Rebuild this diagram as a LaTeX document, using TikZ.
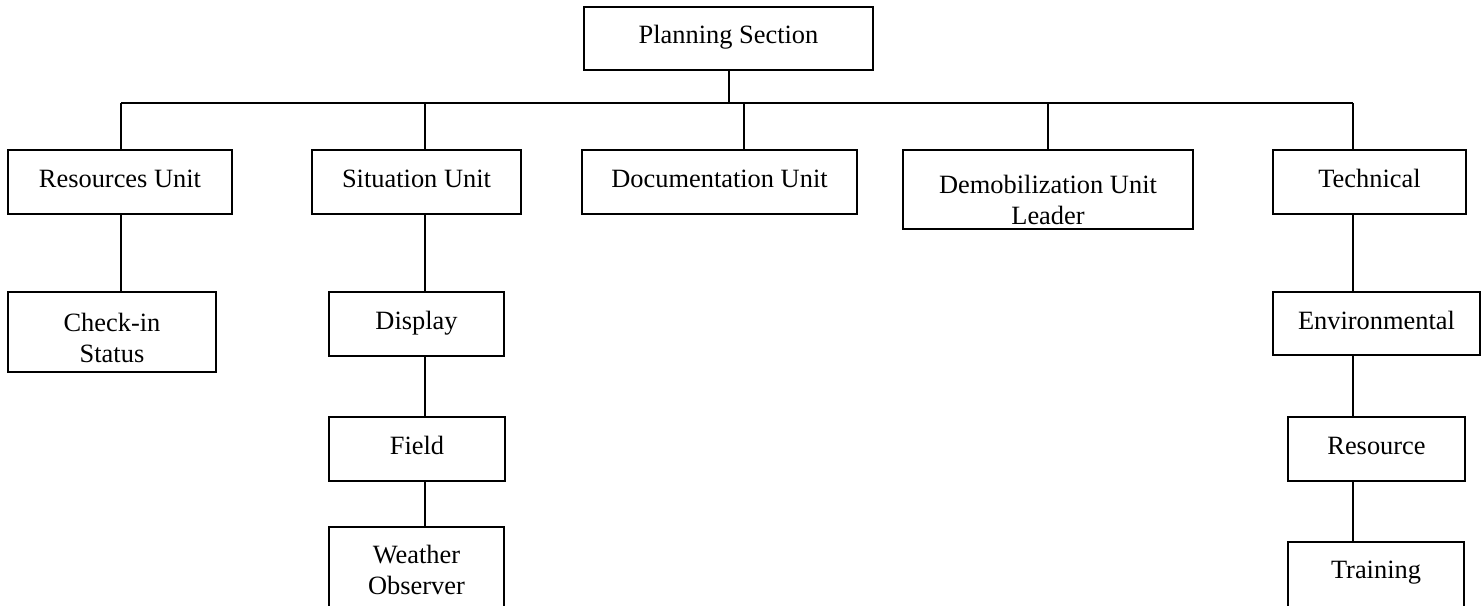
\documentclass[tikz,border=0pt]{standalone}
\usepackage{fontspec}
\setmainfont{Liberation Serif}
\tikzset{
  orgbox/.style={draw, line width=1.6pt, rectangle, inner sep=0pt, outer sep=0pt,
    anchor=north west, text height=37pt,
    font=\fontsize{26.4}{31}\selectfont},
  link/.style={line width=1.6pt}
}
\newcommand{\twoline}[2]{\begin{tabular}[t]{@{}c@{}}#1\\#2\end{tabular}}
\begin{document}
\begin{tikzpicture}[x=1pt,y=-1pt]
\useasboundingbox (0,0) rectangle (1483,605);
\clip (0,0) rectangle (1483,605);
% boxes: (left,top), width, height
\node[orgbox, minimum width=289pt, minimum height=63pt, text height=36pt, text depth=27pt] (plan) at (584,7) {Planning Section};
\node[orgbox, minimum width=224pt, minimum height=64pt, text depth=27pt] (res) at (8,150) {Resources Unit};
\node[orgbox, minimum width=209pt, minimum height=64pt, text depth=27pt] (sit) at (312,150) {Situation Unit};
\node[orgbox, minimum width=275pt, minimum height=64pt, text depth=27pt] (doc) at (582,150) {Documentation Unit};
\node[orgbox, minimum width=290pt, minimum height=79pt, text height=43pt, text depth=36pt] (demob) at (903,150) {\twoline{Demobilization Unit}{Leader}};
\node[orgbox, minimum width=193pt, minimum height=64pt, text depth=27pt] (tech) at (1273,150) {Technical};
\node[orgbox, minimum width=208pt, minimum height=80pt, text height=39pt, text depth=41pt] (chk) at (8,292) {\twoline{Check-in}{Status}};
\node[orgbox, minimum width=175pt, minimum height=64pt, text depth=27pt] (disp) at (329,292) {Display};
\node[orgbox, minimum width=207pt, minimum height=63pt, text depth=26pt] (env) at (1273,292) {Environmental};
\node[orgbox, minimum width=176pt, minimum height=64pt, text depth=27pt] (field) at (329,417) {Field};
\node[orgbox, minimum width=177pt, minimum height=64pt, text depth=27pt] (resrc) at (1288,417) {Resource};
\node[orgbox, minimum width=175pt, minimum height=113pt, text height=36pt, text depth=77pt] (wx) at (329,527) {\twoline{Weather}{Observer}};
\node[orgbox, minimum width=176pt, minimum height=98pt, text height=36pt, text depth=62pt] (train) at (1288,542) {Training};
% bus taps
\coordinate (tplan) at (729,103);
\coordinate (tres) at (121,103);
\coordinate (tsit) at (425,103);
\coordinate (tdoc) at (744,103);
\coordinate (tdem) at (1048,103);
\coordinate (ttech) at (1353,103);
% connectors
\draw[link] (tplan |- plan.south) -- (tplan);
\draw[link] (tres) -- (ttech);
\draw[link] (tres) -- (tres |- res.north);
\draw[link] (tsit) -- (tsit |- sit.north);
\draw[link] (tdoc) -- (tdoc |- doc.north);
\draw[link] (tdem) -- (tdem |- demob.north);
\draw[link] (ttech) -- (ttech |- tech.north);
\draw[link] (tres |- res.south) -- (tres |- chk.north);
\draw[link] (tsit |- sit.south) -- (tsit |- disp.north);
\draw[link] (tsit |- disp.south) -- (tsit |- field.north);
\draw[link] (tsit |- field.south) -- (tsit |- wx.north);
\draw[link] (ttech |- tech.south) -- (ttech |- env.north);
\draw[link] (ttech |- env.south) -- (ttech |- resrc.north);
\draw[link] (ttech |- resrc.south) -- (ttech |- train.north);
\end{tikzpicture}
\end{document}
